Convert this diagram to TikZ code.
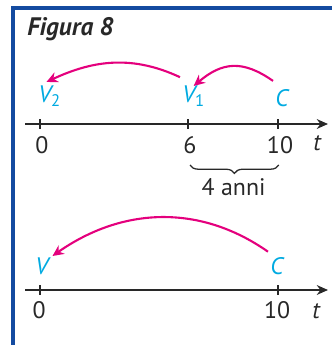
\documentclass[tikz,border=0pt]{standalone}
\usepackage{fontspec}
\setmainfont{PT Sans}
\usetikzlibrary{arrows.meta, positioning, decorations.pathreplacing}
\definecolor{framebl}{RGB}{20,75,160}
\definecolor{jump}{RGB}{228,0,125}
\definecolor{point}{RGB}{0,170,225}
\definecolor{ink}{RGB}{40,40,40}

\begin{document}
\begin{tikzpicture}[
    axis/.style={line width=1.1pt, ink, -{Stealth[length=8pt,width=7pt]}},
    tick/.style={ink, line width=0.8pt},
    ticklbl/.style={font=\fontsize{17}{20}\selectfont, text=ink, inner sep=0pt},
    event/.style={font=\fontsize{17}{20}\selectfont\itshape, text=point, inner sep=0pt, anchor=base west},
    jumparrow/.style={line width=1.5pt, jump, -{Stealth[length=8pt,width=7.5pt]}},
    title/.style={font=\fontsize{18}{21}\selectfont\bfseries\itshape, text=ink, anchor=base west, inner sep=0pt}
]
\useasboundingbox (0,0) rectangle (8.3,8.625);

% frame
\draw[framebl, line width=2.2pt] (0.325,0) -- (0.325,8.425) -- (8.3,8.425);
\node[title] (title) at (0.675,7.725) {Figura 8};

% ============= TWO PAYMENTS =============
\coordinate (a1) at (0.625,5.525);
\coordinate (b1) at (8.2,5.525);
\draw[axis] (a1) -- (b1);
\foreach \x/\n/\l in {1.0/z/0, 4.7/s/6, 6.95/d/10} {
    \draw[tick] (\x,5.645) -- (\x,5.405);
    \node[ticklbl] (up\n) at (\x+0.05,5.0) {\l};
}
\node[ticklbl, font=\fontsize{17}{20}\selectfont\itshape] (upt) at (7.925,5.05) {t};

% events
\node[event] (vtwo) at (0.95,6.05) {V\textsubscript{\upshape 2}};
\node[event] (vone) at (4.55,6.05) {V\textsubscript{\upshape 1}};
\node[event] (cup) at (6.875,5.95) {C};

\draw[jumparrow] ([shift={(-0.05,0.22)}]cup.north west) to[out=145,in=40,looseness=1.2] (vone.north);
\draw[jumparrow] ([shift={(-0.05,0.22)}]vone.north west) to[out=155,in=25] ([shift={(-0.08,0.1)}]vtwo.north);

% gap between 6 and 10
\coordinate (bl) at (4.75,4.5);
\coordinate (br) at (6.97,4.5);
\draw[decorate, decoration={brace, mirror, amplitude=6pt}, ink, line width=0.9pt] (bl) -- (br);
\node[ticklbl] (gap) at (5.84,3.95) {4 anni};

% ============= ONE PAYMENT =============
\coordinate (a2) at (0.625,1.375);
\coordinate (b2) at (8.2,1.375);
\draw[axis] (a2) -- (b2);
\foreach \x/\n/\l in {1.0/z/0, 6.95/d/10} {
    \draw[tick] (\x,1.495) -- (\x,1.255);
    \node[ticklbl] (lo\n) at (\x-0.02,0.875) {\l};
}
\node[ticklbl, font=\fontsize{17}{20}\selectfont\itshape] (lot) at (7.9,0.85) {t};

\node[event] (vlo) at (0.875,1.75) {V};
\node[event] (clo) at (6.75,1.75) {C};

\draw[jumparrow] ([shift={(-0.05,0.15)}]clo.north west) to[out=145,in=35] ([shift={(0.1,0.05)}]vlo.north east);

\end{tikzpicture}
\end{document}
